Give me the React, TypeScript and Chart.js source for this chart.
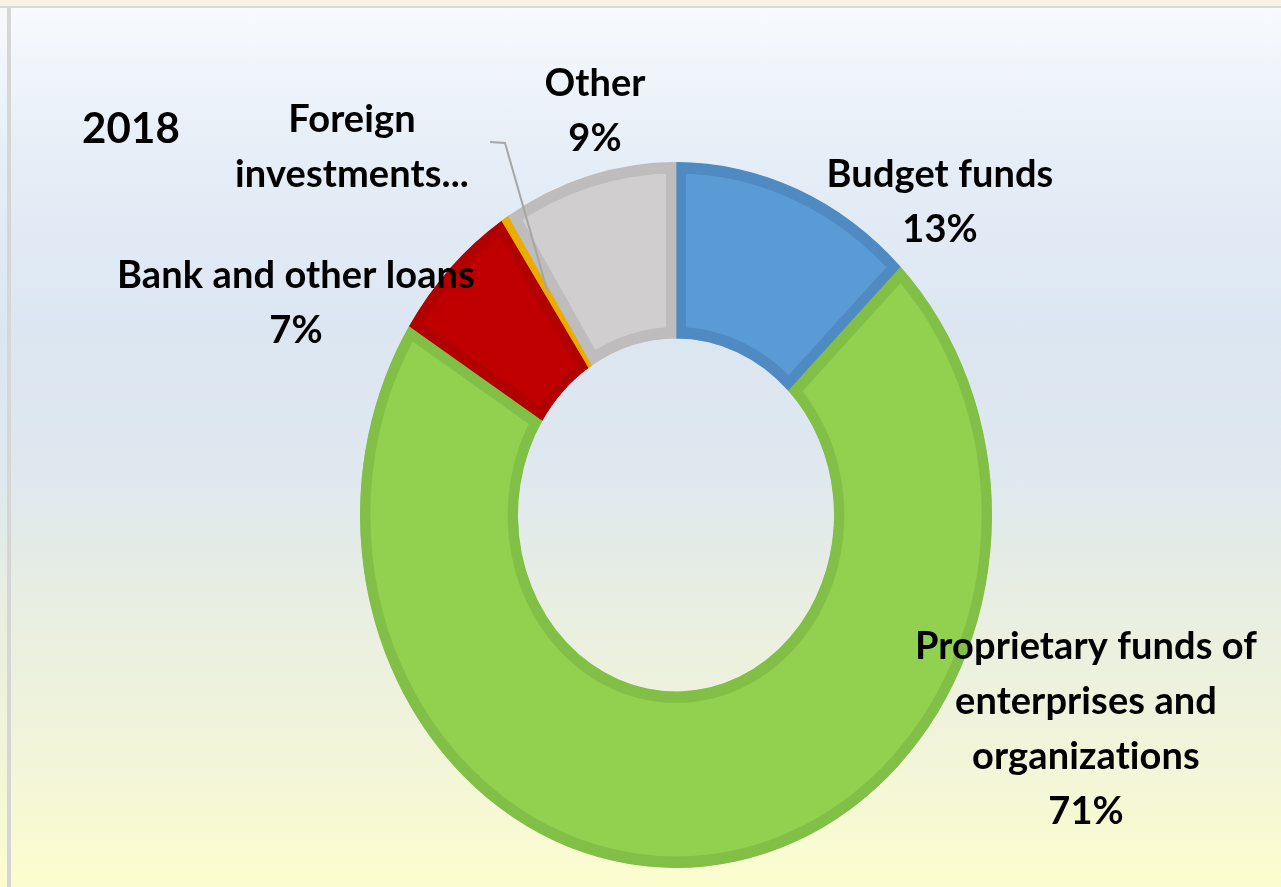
import React, { useEffect, useRef } from "react";
import { Chart, registerables } from "chart.js";

Chart.register(...registerables);

// ---- data ----
const categories = [
  "Budget funds",
  "Proprietary funds of enterprises and organizations",
  "Bank and other loans",
  "Foreign investments",
  "Other",
];
const shares = [12.6, 71.4, 6.7, 0.4, 8.9];
const labelLines = [
  ["Budget funds"],
  ["Proprietary funds of", "enterprises and", "organizations"],
  ["Bank and other loans"],
  ["Foreign", "investments..."],
  ["Other"],
];
const showPercent = [true, true, true, false, true];
const yearLabel = "2018";

// ---- styles ----
const fillColors = ["#5b9bd5", "#92d050", "#c00000", "#ffc000", "#d0cece"];
const borderColors = ["#4f8bc2", "#82bf47", "#b20000", "#e8ad00", "#bebcbc"];
const SY = 1.117; // vertical stretch of the picture
const CX = 676;
const CY = 515;
// first baseline [x center, y] of each label block
const labelAnchor = [
  [940, 187],
  [1086, 659],
  [296, 288],
  [352, 132],
  [595, 96],
];
const LINE_H = 55;
const FONT = "bold 38px Lato, 'Open Sans', sans-serif";

const stretchPlugin = {
  id: "stretch",
  beforeDatasetsDraw(chart: any) {
    const ctx = chart.ctx;
    ctx.save();
    ctx.translate(CX, CY);
    ctx.scale(1, SY);
    ctx.translate(-CX, -CY);
  },
  afterDatasetsDraw(chart: any) {
    chart.ctx.restore();
  },
};

const labelPlugin = {
  id: "labels",
  afterDraw(chart: any) {
    const ctx = chart.ctx;
    const meta = chart.getDatasetMeta(0);
    ctx.save();
    // leader line for the tiny slice
    const fi = 3;
    const arc: any = meta.data[fi];
    if (arc) {
      const mid = (arc.startAngle + arc.endAngle) / 2;
      const r = (arc.innerRadius + arc.outerRadius) / 2;
      const px = arc.x + Math.cos(mid) * r;
      const py = arc.y + Math.sin(mid) * r * SY;
      ctx.strokeStyle = "#a6a6a6";
      ctx.lineWidth = 2;
      ctx.beginPath();
      ctx.moveTo(490, 142);
      ctx.lineTo(505, 143);
      ctx.lineTo(px, py);
      ctx.stroke();
    }
    ctx.fillStyle = "#000";
    ctx.textAlign = "center";
    ctx.textBaseline = "alphabetic";
    ctx.font = FONT;
    try {
      (ctx as any).letterSpacing = "0.1px";
    } catch (e) {}
    labelLines.forEach((lines, i) => {
      const [x, y0] = labelAnchor[i];
      const all = showPercent[i] ? [...lines, Math.round(shares[i]) + "%"] : lines;
      all.forEach((t, j) => ctx.fillText(t, x, y0 + j * LINE_H));
    });
    ctx.textAlign = "left";
    ctx.font = "bold 42px Lato, 'Open Sans', sans-serif";
    ctx.fillText(yearLabel, 82, 143);
    ctx.restore();
  },
};

export default function App() {
  const ref = useRef<HTMLCanvasElement>(null);
  useEffect(() => {
    if (!ref.current) return;
    const chart = new Chart(ref.current, {
      type: "doughnut",
      data: {
        labels: categories,
        datasets: [
          {
            data: shares,
            backgroundColor: fillColors,
            borderColor: borderColors,
            borderWidth: 10,
            borderAlign: "inner",
          },
        ],
      },
      options: {
        animation: false,
        responsive: false,
        devicePixelRatio: 1,
        radius: 316,
        cutout: "50%",
        layout: { padding: { left: 71, top: 143, right: 0, bottom: 0 } },
        plugins: { legend: { display: false }, tooltip: { enabled: false } },
      } as any,
      plugins: [stretchPlugin, labelPlugin],
    });
    return () => chart.destroy();
  }, []);
  return (
    <div
      style={{
        position: "fixed",
        left: 0,
        top: 0,
        width: 1281,
        height: 887,
        overflow: "hidden",
        background:
          "linear-gradient(180deg, #f9fbfd 0px, #e6eef7 150px, #dce6f2 330px, #dfe8ee 480px, #e8eee2 600px, #f2f5d9 760px, #fcfdce 887px)",
      }}
    >
      <div style={{ position: "absolute", left: 0, top: 0, width: 1281, height: 6, background: "#f7f3e5" }} />
      <div style={{ position: "absolute", left: 0, top: 6, width: 1281, height: 2, background: "#d9d9d9" }} />
      <div style={{ position: "absolute", left: 7, top: 8, width: 4, height: 879, background: "#d6d6d6" }} />
      <canvas ref={ref} width={1281} height={887} style={{ position: "absolute", left: 0, top: 0, width: 1281, height: 887 }} />
    </div>
  );
}
